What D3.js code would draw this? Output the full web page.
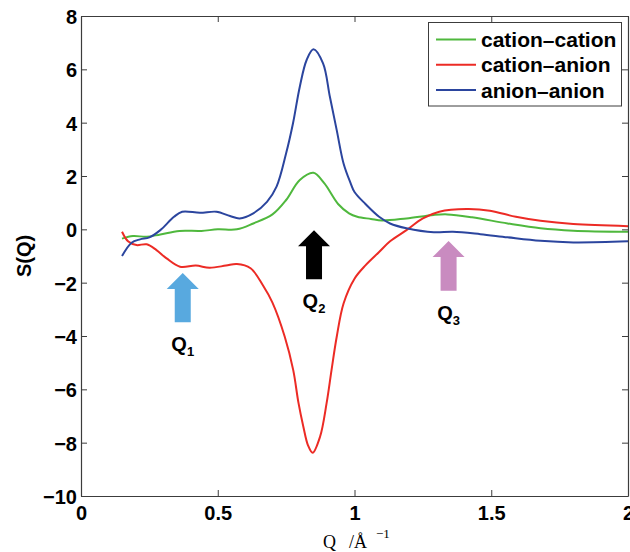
<!DOCTYPE html>
<html lang="en">
<head>
  <meta charset="UTF-8">
  <title>S(Q)</title>
  <script src="https://d3js.org/d3.v7.min.js"></script>
  <style>
    body { margin: 0; background: #fff; }
    svg { display: block; }
  </style>
</head>
<body>
  <script>
    // ---- data ----
    const ccQ = [0.15, 0.19, 0.24, 0.29, 0.36, 0.44, 0.50, 0.57, 0.63, 0.70, 0.75, 0.80, 0.85, 0.89, 0.94, 0.98, 1.01, 1.06, 1.10, 1.19, 1.29, 1.34, 1.43, 1.56, 1.68, 1.80, 2.00];
    const ccS = [-0.35, -0.25, -0.28, -0.19, -0.06, -0.06, 0.0, 0.0, 0.22, 0.56, 1.1, 1.85, 2.12, 1.72, 0.95, 0.6, 0.47, 0.39, 0.33, 0.41, 0.54, 0.56, 0.45, 0.22, 0.04, -0.05, -0.09];

    const caQ = [0.15, 0.173, 0.203, 0.24, 0.276, 0.313, 0.362, 0.42, 0.47, 0.53, 0.57, 0.62, 0.665, 0.70, 0.745, 0.776, 0.795, 0.813, 0.83, 0.847, 0.874, 0.898, 0.916, 0.935, 0.96, 1.00, 1.04, 1.09, 1.13, 1.19, 1.25, 1.31, 1.41, 1.495, 1.59, 1.68, 1.80, 2.00];
    const caS = [-0.09, -0.46, -0.59, -0.56, -0.78, -1.09, -1.40, -1.36, -1.44, -1.36, -1.30, -1.46, -2.1, -2.75, -4.03, -5.28, -6.5, -7.4, -8.1, -8.38, -7.78, -6.52, -5.28, -4.03, -2.78, -1.85, -1.35, -0.85, -0.45, -0.03, 0.41, 0.66, 0.76, 0.70, 0.47, 0.32, 0.2, 0.12];

    const aaQ = [0.15, 0.185, 0.216, 0.25, 0.29, 0.34, 0.37, 0.435, 0.495, 0.545, 0.58, 0.63, 0.68, 0.715, 0.75, 0.775, 0.80, 0.825, 0.85, 0.885, 0.91, 0.935, 0.96, 0.985, 1.00, 1.04, 1.09, 1.13, 1.19, 1.29, 1.36, 1.46, 1.56, 1.68, 1.80, 2.00];
    const aaS = [-1.0, -0.50, -0.375, -0.30, -0.03, 0.47, 0.66, 0.62, 0.66, 0.50, 0.41, 0.6, 1.03, 1.6, 2.85, 3.97, 5.35, 6.35, 6.75, 6.22, 4.97, 3.72, 2.47, 1.75, 1.4, 0.95, 0.47, 0.22, 0.04, -0.11, -0.09, -0.18, -0.30, -0.43, -0.49, -0.45];

    const seriesNames = ["cation\u2013cation", "cation\u2013anion", "anion\u2013anion"];
    const seriesColors = ["#4fb83d", "#ec2b25", "#2b459e"];

    const xTicks = [0, 0.5, 1, 1.5, 2];
    const yTicks = [-10, -8, -6, -4, -2, 0, 2, 4, 6, 8];

    // arrows marking the three peaks: position, tip, tail
    const arrowNames = ["1", "2", "3"];
    const arrowQ = [0.372, 0.852, 1.344];
    const arrowTip = [-1.64, -0.03, -0.44];
    const arrowTail = [-3.48, -1.87, -2.3];
    const arrowColors = ["#58a9df", "#000000", "#c98bc0"];

    const width = 630;
    const height = 552;
    const margin = { top: 16, right: 2, bottom: 56, left: 81 };

    const svg = d3.select("body")
      .append("svg")
      .attr("width", width)
      .attr("height", height);

    const x = d3.scaleLinear().domain([0, 2]).range([margin.left, width - margin.right]);
    const y = d3.scaleLinear().domain([-10, 8]).range([height - margin.bottom, margin.top]);

    const font = "'Liberation Sans', Arial, Helvetica, sans-serif";
    const frameColor = "#3c3c3c";

    // curves
    const line = d3.line()
      .x(d => x(d[0]))
      .y(d => y(d[1]))
      .curve(d3.curveCatmullRom.alpha(0.5));

    const series = [
      d3.zip(ccQ, ccS),
      d3.zip(caQ, caS),
      d3.zip(aaQ, aaS)
    ];

    svg.append("g")
      .selectAll("path")
      .data(series)
      .join("path")
      .attr("d", line)
      .attr("fill", "none")
      .attr("stroke", (d, i) => seriesColors[i])
      .attr("stroke-width", 2)
      .attr("stroke-linejoin", "round");

    // axes, ticks pointing inwards on all four sides
    const styleAxis = g => {
      g.select(".domain").attr("stroke", frameColor).attr("stroke-width", 1.2);
      g.selectAll(".tick line").attr("stroke", frameColor).attr("stroke-width", 1);
      g.selectAll(".tick text")
        .attr("fill", "#000")
        .style("font-family", font)
        .style("font-weight", "bold")
        .style("font-size", "20px");
    };

    svg.append("g")
      .attr("transform", `translate(0,${y(-10)})`)
      .call(d3.axisBottom(x).tickValues(xTicks).tickSize(-6).tickSizeOuter(0).tickPadding(10)
        .tickFormat(d3.format("")))
      .call(styleAxis);

    svg.append("g")
      .attr("transform", `translate(0,${y(8)})`)
      .call(d3.axisTop(x).tickValues(xTicks).tickSize(-6).tickSizeOuter(0).tickFormat(""))
      .call(styleAxis);

    svg.append("g")
      .attr("transform", `translate(${x(0)},0)`)
      .call(d3.axisLeft(y).tickValues(yTicks).tickSize(-6).tickSizeOuter(0).tickPadding(4)
        .tickFormat(d => d < 0 ? "\u2212" + Math.abs(d) : d))
      .call(styleAxis)
      .selectAll(".tick text").attr("dy", "0.38em");

    svg.append("g")
      .attr("transform", `translate(${x(2)},0)`)
      .call(d3.axisRight(y).tickValues(yTicks).tickSize(-6).tickSizeOuter(0).tickFormat(""))
      .call(styleAxis);

    // axis titles
    svg.append("text")
      .attr("transform", `translate(31,${(y(8) + y(-10)) / 2}) rotate(-90)`)
      .attr("text-anchor", "middle")
      .style("font-family", font)
      .style("font-weight", "bold")
      .style("font-size", "20px")
      .text("S(Q)");

    const xt = svg.append("text")
      .attr("y", 548)
      .style("font-family", "'Liberation Serif', 'Times New Roman', serif")
      .style("font-size", "18px");
    xt.append("tspan").attr("x", 323).text("Q");
    xt.append("tspan").attr("x", 349).text("/\u00C5");
    xt.append("tspan").attr("x", 376).attr("dy", -10).style("font-size", "13px").text("\u22121");

    // peak arrows
    const headW = 32, headH = 16, shaftW = 16;
    const arrows = svg.append("g")
      .selectAll("g")
      .data(arrowQ)
      .join("g");

    arrows.append("path")
      .attr("d", (q, i) => {
        const cx = x(q), t = y(arrowTip[i]), b = y(arrowTail[i]);
        return `M${cx},${t} L${cx + headW / 2},${t + headH} L${cx + shaftW / 2},${t + headH} ` +
          `L${cx + shaftW / 2},${b} L${cx - shaftW / 2},${b} L${cx - shaftW / 2},${t + headH} ` +
          `L${cx - headW / 2},${t + headH} Z`;
      })
      .attr("fill", (q, i) => arrowColors[i]);

    const labels = arrows.append("text")
      .attr("x", q => x(q))
      .attr("y", (q, i) => y(arrowTail[i]) + 29)
      .attr("text-anchor", "middle")
      .style("font-family", font)
      .style("font-weight", "bold")
      .style("font-size", "20px");
    labels.append("tspan").text("Q");
    labels.append("tspan")
      .attr("dy", 5)
      .style("font-size", "13px")
      .text((q, i) => arrowNames[i]);

    // legend
    const legend = svg.append("g");
    legend.append("rect")
      .attr("x", 428.5)
      .attr("y", 22.5)
      .attr("width", 193)
      .attr("height", 83.5)
      .attr("fill", "#fff")
      .attr("stroke", frameColor)
      .attr("stroke-width", 1);

    const rows = legend.selectAll("g.row")
      .data(seriesNames)
      .join("g")
      .attr("class", "row")
      .attr("transform", (d, i) => `translate(0,${39.5 + i * 25.3})`);

    rows.append("line")
      .attr("x1", 436)
      .attr("x2", 476)
      .attr("stroke", (d, i) => seriesColors[i])
      .attr("stroke-width", 2);

    rows.append("text")
      .attr("x", 481)
      .attr("dy", "0.36em")
      .style("font-family", font)
      .style("font-weight", "bold")
      .style("font-size", "21px")
      .text(d => d);
  </script>
</body>
</html>
